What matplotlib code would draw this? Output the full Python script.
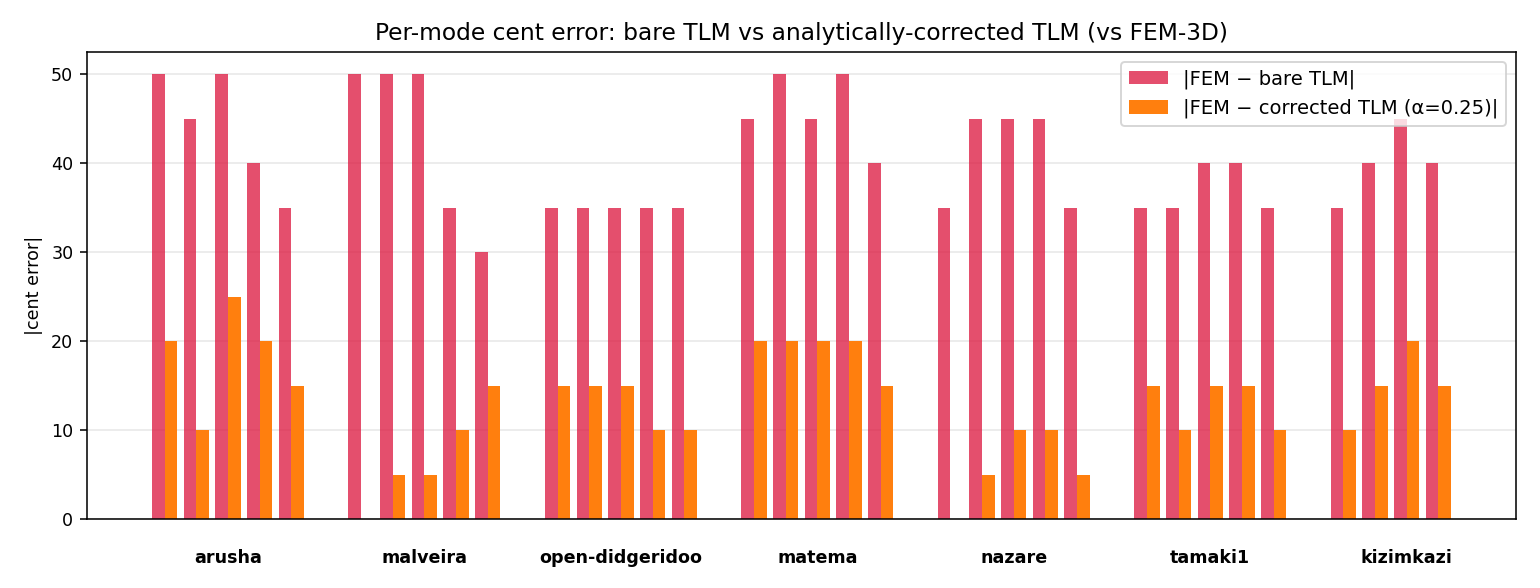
import matplotlib
matplotlib.use("Agg")
import matplotlib.pyplot as plt
import matplotlib.transforms as mtransforms
import numpy as np

# per-mode |cent error|, one list per instrument
instruments = ["arusha", "malveira", "open-didgeridoo", "matema",
               "nazare", "tamaki1", "kizimkazi"]
bare_err = [
    [50, 45, 50, 40, 35],
    [50, 50, 50, 35, 30],
    [35, 35, 35, 35, 35],
    [45, 50, 45, 50, 40],
    [35, 45, 45, 45, 35],
    [35, 35, 40, 40, 35],
    [35, 40, 45, 40],
]
corr_err = [
    [20, 10, 25, 20, 15],
    [0, 5, 5, 10, 15],
    [15, 15, 15, 10, 10],
    [20, 20, 20, 20, 15],
    [0, 5, 10, 10, 5],
    [15, 10, 15, 15, 10],
    [10, 15, 20, 15],
]
alpha_corr = 0.25

if __name__ == "__main__":
    plt.rcParams["font.size"] = 9
    fig, ax = plt.subplots(figsize=(11, 4.2), dpi=140)

    group_step = 6.2
    width = 0.4
    for g, name in enumerate(instruments):
        x = g * group_step + np.arange(len(bare_err[g]))
        ax.bar(x - width / 2, bare_err[g], width, color="crimson", alpha=0.75,
               label="|FEM − bare TLM|" if g == 0 else None)
        ax.bar(x + width / 2, corr_err[g], width, color="tab:orange",
               label=f"|FEM − corrected TLM (α={alpha_corr})|" if g == 0 else None)

    # instrument names under each group
    trans = mtransforms.blended_transform_factory(ax.transData, ax.transAxes)
    for g, name in enumerate(instruments):
        ax.text(g * group_step + 2, -0.084, name, transform=trans,
                ha="center", va="center", fontsize=9, fontweight="bold")

    ax.set_xticks([])
    ax.set_ylabel("|cent error|")
    ax.set_title("Per-mode cent error: bare TLM vs analytically-corrected TLM (vs FEM-3D)",
                 fontsize=12)
    ax.grid(axis="y", alpha=0.3)
    ax.set_axisbelow(True)
    ax.legend(loc="upper right", fontsize=10)

    fig.subplots_adjust(left=0.0565, right=0.9844, top=0.9116, bottom=0.1173)
    fig.savefig("out.png", dpi=140)
